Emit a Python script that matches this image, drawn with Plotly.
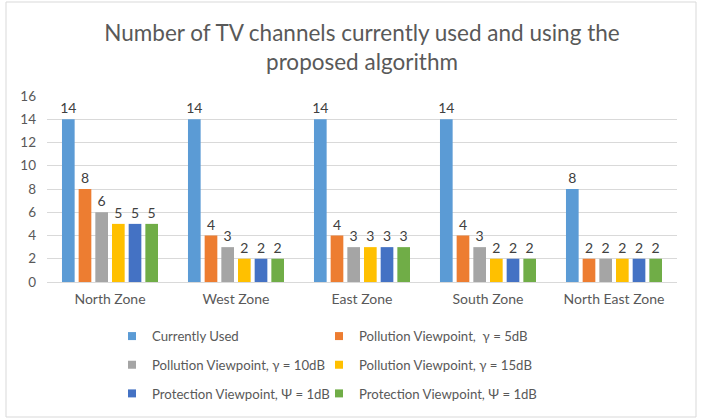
import plotly.graph_objects as go

zones = ["North Zone", "West Zone", "East Zone", "South Zone", "North East Zone"]
series_names = [
    "Currently Used",
    "Pollution Viewpoint,  γ = 5dB",
    "Pollution Viewpoint, γ = 10dB",
    "Pollution Viewpoint, γ = 15dB",
    "Protection Viewpoint, Ψ = 1dB",
    "Protection Viewpoint, Ψ = 1dB",
]
currently_used = [14, 14, 14, 14, 8]
pollution_5db = [8, 4, 4, 4, 2]
pollution_10db = [6, 3, 3, 3, 2]
pollution_15db = [5, 2, 3, 2, 2]
protection_1db_a = [5, 2, 3, 2, 2]
protection_1db_b = [5, 2, 3, 2, 2]
series_values = [currently_used, pollution_5db, pollution_10db,
                 pollution_15db, protection_1db_a, protection_1db_b]
colors = ["#5B9BD5", "#ED7D31", "#A5A5A5", "#FFC000", "#4472C4", "#70AD47"]
legend_ids = ["legend", "legend2", "legend", "legend2", "legend", "legend2"]
y_ticks = [0, 2, 4, 6, 8, 10, 12, 14, 16]

FONT = "Lato, 'Open Sans', sans-serif"

fig = go.Figure()
for i, (name, vals) in enumerate(zip(series_names, series_values)):
    fig.add_trace(go.Bar(
        x=zones, y=vals, name=name, showlegend=False,
        marker=dict(color=colors[i], line=dict(width=0)),
        text=[str(v) for v in vals], textposition="outside",
        constraintext="none",
        textfont=dict(size=14, color="#404040", family=FONT),
        cliponaxis=False,
    ))
# legend entries (square swatches)
for i, name in enumerate(series_names):
    fig.add_trace(go.Scatter(
        x=[None], y=[None], mode="markers", name=name,
        marker=dict(symbol="square", size=8, color=colors[i]),
        legend=legend_ids[i], legendgroup=f"g{i}", showlegend=True,
    ))

W, H = 702, 418
L, R, T, B = 47, 25, 96, 136
pw = W - L - R
ph = H - T - B

def px_x(x):
    return (x - L) / pw

def px_y(y):
    return (H - B - y) / ph

legend_common = dict(
    orientation="v", xanchor="left", yanchor="top",
    font=dict(size=13.2, color="#595959", family=FONT),
    bgcolor="rgba(0,0,0,0)", tracegroupgap=8.5,
)

fig.update_layout(
    width=W, height=H,
    margin=dict(l=L, r=R, t=T, b=B, autoexpand=False),
    paper_bgcolor="white", plot_bgcolor="white",
    font=dict(family=FONT, color="#595959"),
    title=dict(
        text="Number of TV channels currently used and using the<br>proposed algorithm",
        x=0.5, xref="paper", xanchor="center",
        y=1 - 41 / H, yref="container", yanchor="middle",
        font=dict(size=22.5, color="#595959", family=FONT),
    ),
    barmode="group", bargap=0.206, bargroupgap=0.24,
    xaxis=dict(
        showgrid=False, showline=True, linecolor="#D9D9D9", linewidth=1,
        ticks="", tickfont=dict(size=14, color="#595959", family=FONT),
        ticklabelstandoff=4, fixedrange=True,
    ),
    yaxis=dict(
        range=[0, 16], tickvals=y_ticks, showgrid=True, gridcolor="#D9D9D9",
        gridwidth=1, zeroline=False, showline=False, ticks="",
        tickfont=dict(size=13.5, color="#595959", family=FONT),
        ticklabelstandoff=10,
    ),
    legend=dict(x=px_x(112), y=px_y(321), **legend_common),
    legend2=dict(x=px_x(319), y=px_y(321), **legend_common),
    shapes=[dict(type="rect", xref="paper", yref="paper",
                 x0=px_x(6), x1=px_x(696), y0=px_y(417), y1=px_y(2),
                 line=dict(color="#D9D9D9", width=1), layer="below")],
)

fig.write_html("out.html")
